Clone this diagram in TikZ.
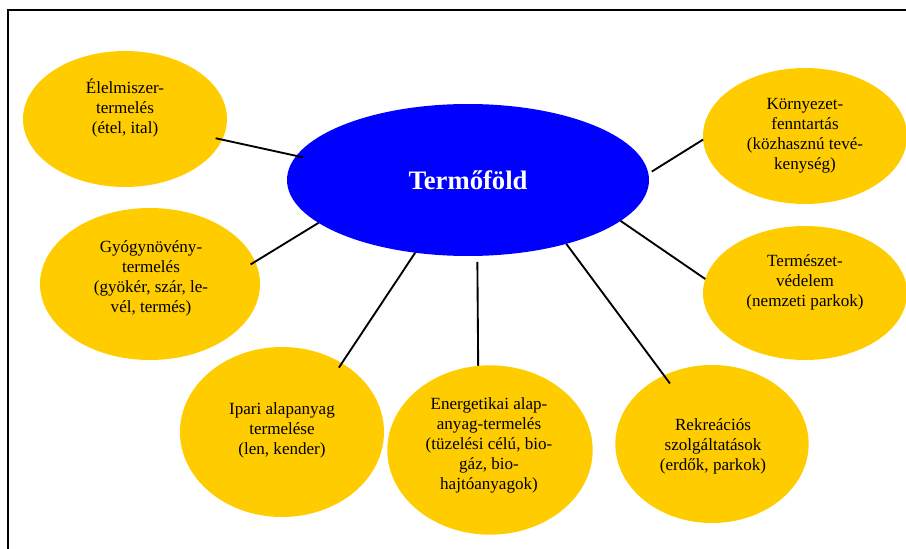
\documentclass[tikz,border=0pt]{standalone}
\usepackage{fontspec}
\setmainfont{Liberation Serif}
\usetikzlibrary{shapes.geometric}
\definecolor{gold}{RGB}{255,204,0}
\definecolor{pureblue}{RGB}{0,0,255}

\begin{document}
\begin{tikzpicture}[
    x=0.75pt, y=-0.75pt,
    topic/.style={ellipse, fill=gold, inner sep=0pt, outer sep=0pt},
    hub/.style={ellipse, fill=pureblue, inner sep=0pt, outer sep=0pt, minimum width=271.5pt, minimum height=114pt},
    txt/.style={align=center, inner sep=0pt, font=\fontsize{12.8}{15}\selectfont},
    link/.style={line width=1.4pt},
    frame/.style={line width=2.2pt}
]
\clip (0,0) rectangle (906,549);

% Outer frame (cut off at right and bottom)
\draw[frame] (8,600) -- (8,10) -- (960,10);

% Central ellipse and topics
\node[hub] (core) at (468,180) {};
\node[topic, minimum width=153pt, minimum height=102pt] (elel) at (125,119) {};
\node[topic, minimum width=153pt, minimum height=102pt] (korny) at (805,136) {};
\node[topic, minimum width=165pt, minimum height=114pt] (gyogy) at (150,284) {};
\node[topic, minimum width=153pt, minimum height=100.5pt] (terme) at (805,293) {};
\node[topic, minimum width=153pt, minimum height=127.5pt] (ipari) at (282,432) {};
\node[topic, minimum width=154pt, minimum height=127pt] (ener) at (490,450) {};
\node[topic, minimum width=145pt, minimum height=118.5pt] (rekre) at (712,444) {};

% Links from the centre
\draw[link, shorten <=-5pt, shorten >=-5pt] (elel.-12.5) -- (core.172);
\draw[link, shorten <=3pt] (core.2) -- (korny.-178);
\draw[link, shorten <=-4pt] (gyogy.12.4) -- (core.-164);
\draw[link, shorten >=-4pt] (core.-126) -- (ipari.49.7);
\draw[link, shorten <=4.5pt] (core.-83.2) -- (ener.98.8);
\draw[link, shorten >=-7.5pt] (core.-33.7) -- (rekre.125.2);
\draw[link] (core.-15.7) -- (terme.172);

% Texts
\node[txt, text=white, font=\bfseries\fontsize{20}{24}\selectfont] (coreText) at (468,180) {Termőföld};
\node[txt] (elelText) at (125,108) {Élelmiszer-\\termelés\\(étel, ital)};
\node[txt] (kornyText) at (805,136) {Környezet-\\fenntartás\\(közhasznú tevé-\\kenység)};
\node[txt] (gyogyText) at (151,278) {Gyógynövény-\\termelés\\(gyökér, szár, le-\\vél, termés)};
\node[txt] (termeText) at (805,282) {Természet-\\védelem\\(nemzeti parkok)};
\node[txt] (ipariText) at (282,430) {Ipari alapanyag\\termelése\\(len, kender)};
\node[txt] (enerText) at (489,445) {Energetikai alap-\\anyag-termelés\\(tüzelési célú, bio-\\gáz, bio-\\hajtóanyagok)};
\node[txt] (rekreText) at (713,446) {Rekreációs\\szolgáltatások\\(erdők, parkok)};

\end{tikzpicture}
\end{document}
